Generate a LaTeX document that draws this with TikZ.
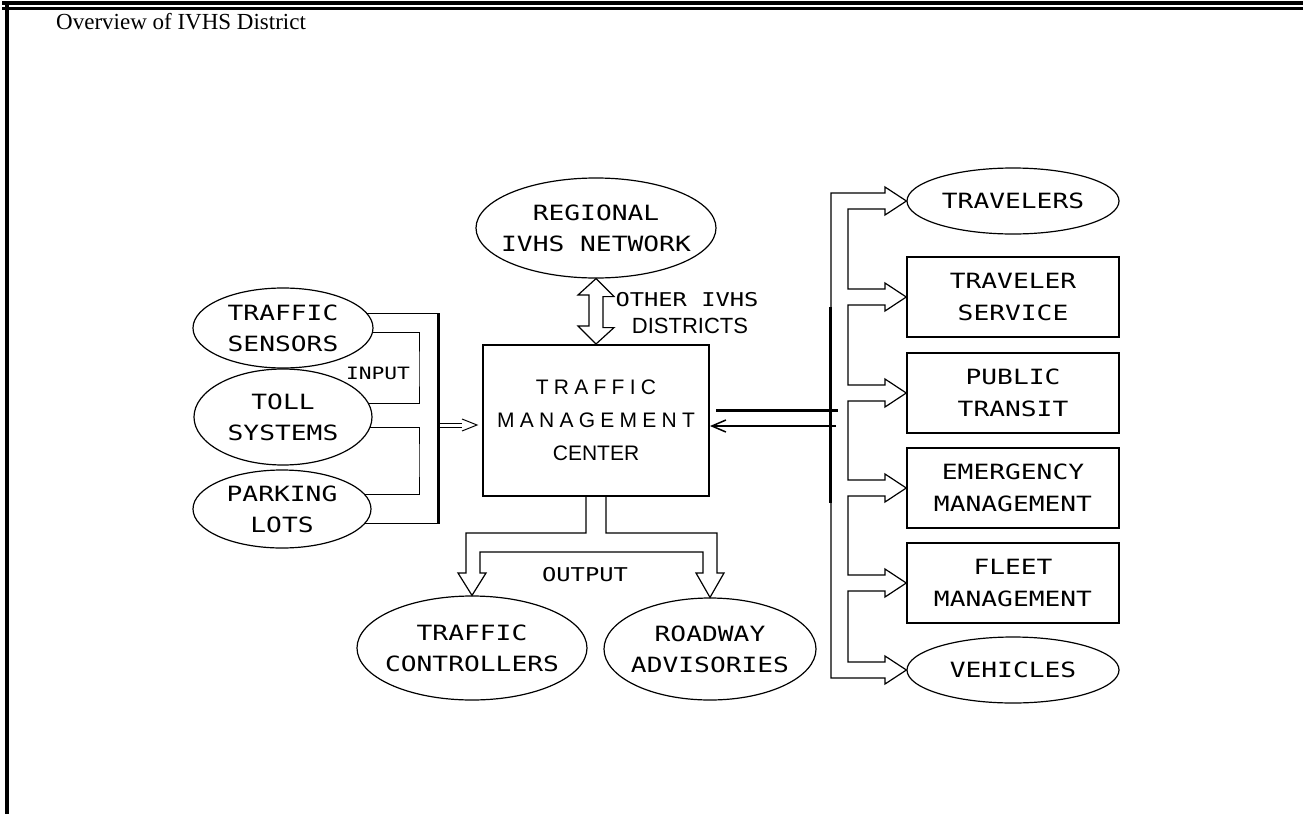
\documentclass[tikz,border=0pt]{standalone}
\usepackage{fontspec}
\setmainfont{Liberation Serif}
\newfontfamily\plotfont[FakeStretch=1.25]{DejaVu Sans Mono}
\newfontfamily\boxfont{Liberation Sans}
\newfontfamily\wideboxfont[LetterSpace=25]{Liberation Sans}
\usetikzlibrary{shapes.geometric,arrows.meta}

\tikzset{
  oval/.style={draw, ellipse, line width=1.2pt, inner xsep=-20pt, inner ysep=0pt,
    align=center, font=\plotfont\fontsize{21}{31}\selectfont},
  unit/.style={draw, rectangle, line width=1.5pt, minimum width=212pt,
    minimum height=80pt, inner sep=0pt, align=center,
    font=\plotfont\fontsize{21}{32}\selectfont},
  hollow/.style={line width=1.2pt, line join=miter},
  feed/.style={line width=1pt},
  bus/.style={line width=3pt},
  tag/.style={inner sep=0pt, font=\plotfont\fontsize{19}{22}\selectfont}
}

\begin{document}
\begin{tikzpicture}[x=1pt,y=-1pt]

\useasboundingbox (0,0) rectangle (1303,814);

% page frame
\draw[line width=4pt]
(2,3)
--
(1303,3);

\draw[line width=3pt]
(2,8.5)
--
(1303,8.5);

\draw[line width=4pt]
(7,3)
--
(7,814);

\node[anchor=base west, inner sep=0pt, font=\fontsize{23}{27}\selectfont]
(title)
at (56,29)
{Overview of IVHS District};

% inputs
\node[oval, minimum width=180pt, minimum height=80pt]
(sens)
at (283,328)
{TRAFFIC\\SENSORS};

\node[oval, minimum width=178pt, minimum height=96pt]
(toll)
at (283,417)
{TOLL\\SYSTEMS};

\node[oval, minimum width=178pt, minimum height=78pt]
(park)
at (282,509)
{PARKING\\LOTS};

\node[tag, font=\plotfont\fontsize{17}{20}\selectfont]
(input)
at (378,373)
{INPUT};

% center
\node[oval, minimum width=240pt, minimum height=100pt]
(reg)
at (596,228)
{REGIONAL\\IVHS NETWORK};

\node[draw, line width=2pt, minimum width=226pt, minimum height=151pt,
  align=center, font=\boxfont\fontsize{21}{33}\selectfont]
(tmc)
at (596,420.5)
{{\wideboxfont TRAFFIC}\\{\wideboxfont MANAGEMENT}\\CENTER};

\node[tag]
(other)
at (687,300)
{OTHER IVHS};

\node[inner sep=0pt, font=\boxfont\fontsize{22}{25}\selectfont]
(distr)
at (690,326)
{DISTRICTS};

% outputs
\node[oval, minimum width=230pt, minimum height=104pt]
(ctrl)
at (472,648)
{TRAFFIC\\CONTROLLERS};

\node[oval, minimum width=212pt, minimum height=102pt]
(road)
at (710,649)
{ROADWAY\\ADVISORIES};

\node[tag]
(output)
at (585,575)
{OUTPUT};

% users
\node[oval, minimum width=212pt, minimum height=66pt]
(trav)
at (1013,201)
{TRAVELERS};

\node[unit]
(serv)
at (1013,297)
{TRAVELER\\SERVICE};

\node[unit]
(pub)
at (1013,393)
{PUBLIC\\TRANSIT};

\node[unit]
(emer)
at (1013,488)
{EMERGENCY\\MANAGEMENT};

\node[unit]
(fleet)
at (1013,583)
{FLEET\\MANAGEMENT};

\node[oval, minimum width=212pt, minimum height=66pt]
(veh)
at (1013,670)
{VEHICLES};

% input wiring
\coordinate (inbus) at (438,313);
\coordinate (injoin1) at (419,370);
\coordinate (injoin2) at (419,460);

\draw[feed]
(sens.10)
--
(sens.10 -| inbus);

\draw[feed]
(sens.-3)
-| (injoin1)
|- (toll.9);

\draw[feed]
(toll.-7)
-| (injoin2)
|- (park.10);

\draw[feed]
(park.-10)
--
(park.-10 -| inbus);

\draw[bus]
(inbus)
--
(inbus |- park.-10);

\draw[feed]
(439,423)
--
(462,423);

\draw[feed]
(439,427)
--
(462,427);

\draw[feed]
(462,419)
--
(477,425)
--
(462,431);

% link to the regional network
\draw[hollow]
(reg.south)
-- ++(18,18) -- ++(-11,0) -- ++(0,31) -- ++(11,0)
-- (tmc.north)
-- ++(-18,-18) -- ++(11,0) -- ++(0,-31) -- ++(-11,0)
-- cycle;

% output fork
\draw[hollow]
(586,496) -- (586,533) -- (466,533) -- (466,573) -- (458,573)
-- (ctrl.north)
-- (486,573) -- (480,573) -- (480,552) -- (703,552) -- (703,573) -- (696,573)
-- (road.north)
-- (724,573) -- (717,573) -- (717,533) -- (606,533) -- (606,496);

% user fork
\draw[hollow]
(831,193) -- (885,193) -- (885,187)
-- (trav.west)
-- (885,215) -- (885,209) -- (848,209)
-- (848,289) -- (885,289) -- (885,283)
-- (serv.west)
-- (885,311) -- (885,305) -- (848,305)
-- (848,385) -- (885,385) -- (885,379)
-- (pub.west)
-- (885,407) -- (885,401) -- (848,401)
-- (848,480) -- (885,480) -- (885,474)
-- (emer.west)
-- (885,502) -- (885,496) -- (848,496)
-- (848,575) -- (885,575) -- (885,569)
-- (fleet.west)
-- (885,597) -- (885,591) -- (848,591)
-- (848,662) -- (885,662) -- (885,656)
-- (veh.west)
-- (885,684) -- (885,678) -- (831,678)
-- cycle;

\draw[bus]
(830,307)
--
(830,503);

% center to users and back
\coordinate (rbusA) at (838,410);
\coordinate (rbusB) at (836,426);

\draw[bus]
(tmc.east |- rbusA) ++(6,0)
--
(rbusA);

\draw[line width=1.5pt, -{Straight Barb[length=14pt,width=12pt]}]
(rbusB)
--
(tmc.east |- rbusB);

\end{tikzpicture}
\end{document}
